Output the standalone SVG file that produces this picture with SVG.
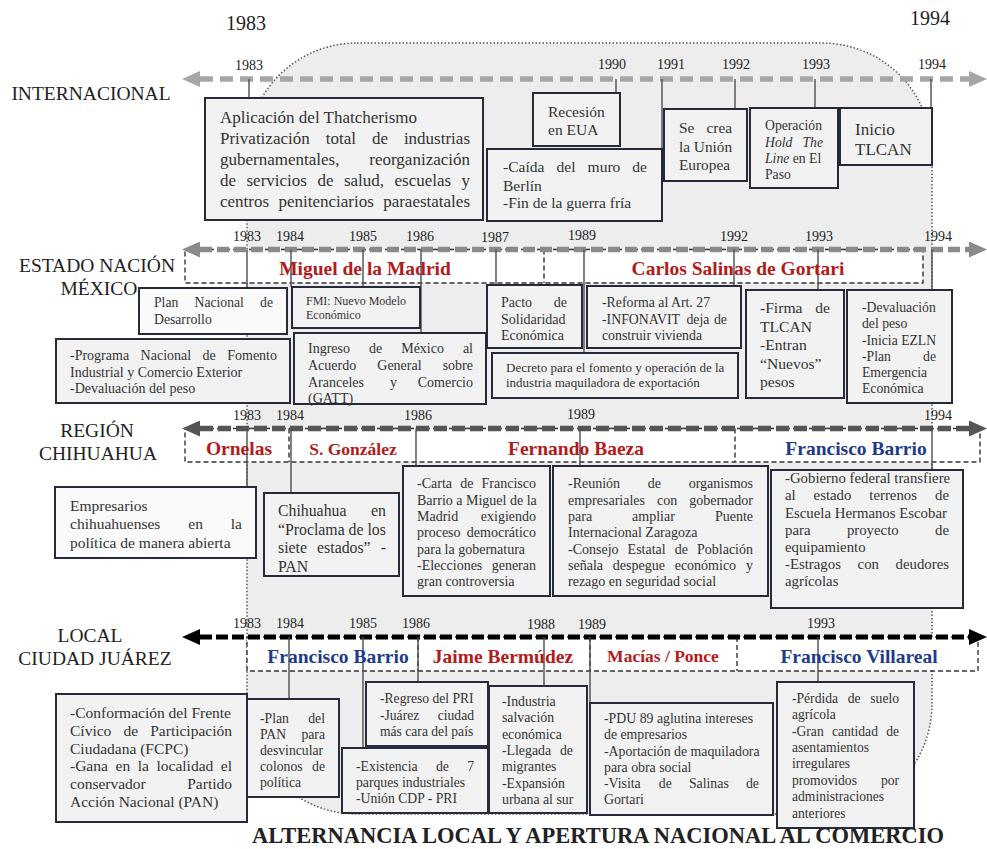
<svg xmlns="http://www.w3.org/2000/svg" width="987" height="849" viewBox="0 0 987 849">
<style>
text{font-family:"Liberation Serif","Times New Roman",serif;fill:#333}
.e{text-anchor:end}
.m{text-anchor:middle}
.i{font-style:italic}
.box{fill:#f2f2f2;stroke:#262a3a;stroke-width:2}
.wbox{fill:#fafafa;stroke:#262a3a;stroke-width:2}
.tick{stroke:#4d4d4d;stroke-width:1.4;fill:none}
.strip{fill:#fff;stroke:#333;stroke-width:1.4;stroke-dasharray:5 3}
.div{stroke:#333;stroke-width:1.4;stroke-dasharray:5 3;fill:none}
.yr{font-size:14px;text-anchor:middle;fill:#222}
.big{font-size:20px;text-anchor:middle;fill:#222}
.lab{font-size:19.5px;text-anchor:middle;fill:#222}
.pres{font-weight:bold;font-size:19.5px;text-anchor:middle}
.red{fill:#b31a1a}
.blue{fill:#1f3a8a}
.f12{font-size:12px}.f13{font-size:13px}.f136{font-size:13.6px}.f137{font-size:13.7px}.f138{font-size:13.8px}.f14{font-size:14px}.f148{font-size:14.8px}.f153{font-size:15.3px}.f155{font-size:15.5px}.f156{font-size:15.6px}.f158{font-size:15.8px}.f17{font-size:17px}
</style>
<defs>
<marker id="a1" markerUnits="userSpaceOnUse" markerWidth="18" markerHeight="16" refX="0" refY="8" orient="auto-start-reverse"><path d="M0,0 L18,8 L0,16 z" fill="#a6a6a6"/></marker>
<marker id="a2" markerUnits="userSpaceOnUse" markerWidth="18" markerHeight="16" refX="0" refY="8" orient="auto-start-reverse"><path d="M0,0 L18,8 L0,16 z" fill="#8a8a8a"/></marker>
<marker id="a3" markerUnits="userSpaceOnUse" markerWidth="18" markerHeight="16" refX="0" refY="8" orient="auto-start-reverse"><path d="M0,0 L18,8 L0,16 z" fill="#555"/></marker>
<marker id="a4" markerUnits="userSpaceOnUse" markerWidth="18" markerHeight="16" refX="0" refY="8" orient="auto-start-reverse"><path d="M0,0 L18,8 L0,16 z" fill="#000"/></marker>
</defs>
<rect width="987" height="849" fill="#fff"/>
<rect id="background" x="247" y="43" width="685" height="771" rx="110" fill="#ededed" stroke="#555" stroke-width="1.5" stroke-dasharray="1.5 2"/>

<g id="strips">
<rect class="strip" x="185" y="249.5" width="738" height="33.5"/>
<line class="div" x1="544" y1="249.5" x2="544" y2="283"/>
<rect class="strip" x="185" y="428.5" width="795" height="33.5"/>
<line class="div" x1="289" y1="428.5" x2="289" y2="462"/>
<line class="div" x1="735" y1="428.5" x2="735" y2="462"/>
<rect class="strip" x="247" y="637" width="731" height="34"/>
<line class="div" x1="418" y1="637" x2="418" y2="671"/>
<line class="div" x1="590" y1="637" x2="590" y2="671"/>
<line class="div" x1="737" y1="637" x2="737" y2="671"/>
</g>

<g id="connectors">
<line x1="200" y1="79" x2="969" y2="79" stroke="#a6a6a6" stroke-width="5.5" stroke-dasharray="13 7" marker-start="url(#a1)" marker-end="url(#a1)"/>
<line x1="200" y1="249.5" x2="969" y2="249.5" stroke="#8a8a8a" stroke-width="5.5" stroke-dasharray="12 5" marker-start="url(#a2)" marker-end="url(#a2)"/>
<line x1="200" y1="428.5" x2="969" y2="428.5" stroke="#555" stroke-width="5.5" stroke-dasharray="13 5" marker-start="url(#a3)" marker-end="url(#a3)"/>
<line x1="200" y1="637" x2="969" y2="637" stroke="#000" stroke-width="5" stroke-dasharray="12 4" marker-start="url(#a4)" marker-end="url(#a4)"/>
<path class="tick" d="M249 79V98M616 79V93M662 79V149M735 79V109M815 79V108M931 79V108"/>
<path class="tick" d="M247 249.5V288M291 249.5V287M363 249.5V287M421 249.5V333M496 249.5V285M584 249.5V353M734 249.5V286M818 249.5V290M932 249.5V290"/>
<path class="tick" d="M247 428.5V487M291 428.5V493M416 428.5V466M580 428.5V466M932 428.5V470"/>
<path class="tick" d="M289 637V699M363 637V748M418 637V682M544 637V686M590 637V703M818 637V682"/>
</g>

<g id="labels">
<text class="big" x="246" y="30">1983</text>
<text class="big" x="930" y="25">1994</text>
<text class="lab" x="91" y="100">INTERNACIONAL</text>
<text class="lab" x="97" y="272">ESTADO NACIÓN</text>
<text class="lab" x="99" y="295">MÉXICO</text>
<text class="lab" x="97" y="437">REGIÓN</text>
<text class="lab" x="98" y="460">CHIHUAHUA</text>
<text class="lab" x="90" y="642">LOCAL</text>
<text class="lab" x="95" y="665">CIUDAD JUÁREZ</text>
<text x="598" y="843" style="font-size:22.5px;font-weight:bold;text-anchor:middle;fill:#222">ALTERNANCIA LOCAL Y APERTURA NACIONAL AL COMERCIO</text>
</g>

<g id="years">
<text class="yr" x="249" y="70">1983</text>
<text class="yr" x="612" y="69">1990</text>
<text class="yr" x="671" y="69">1991</text>
<text class="yr" x="736" y="69">1992</text>
<text class="yr" x="816" y="69">1993</text>
<text class="yr" x="932" y="69">1994</text>
<text class="yr" x="247" y="241">1983</text>
<text class="yr" x="290" y="241">1984</text>
<text class="yr" x="363" y="241">1985</text>
<text class="yr" x="420" y="241">1986</text>
<text class="yr" x="495" y="242">1987</text>
<text class="yr" x="582" y="240">1989</text>
<text class="yr" x="734" y="241">1992</text>
<text class="yr" x="819" y="241">1993</text>
<text class="yr" x="938" y="241">1994</text>
<text class="yr" x="247" y="420">1983</text>
<text class="yr" x="290" y="420">1984</text>
<text class="yr" x="418" y="420">1986</text>
<text class="yr" x="581" y="419">1989</text>
<text class="yr" x="938" y="420">1994</text>
<text class="yr" x="247" y="628">1983</text>
<text class="yr" x="290" y="628">1984</text>
<text class="yr" x="363" y="628">1985</text>
<text class="yr" x="416" y="628">1986</text>
<text class="yr" x="541" y="629">1988</text>
<text class="yr" x="592" y="629">1989</text>
<text class="yr" x="821" y="628">1993</text>
</g>

<g id="presidents">
<text class="pres red" x="365" y="275">Miguel de la Madrid</text>
<text class="pres red" x="738" y="275">Carlos Salinas de Gortari</text>
<text class="pres red" x="239" y="455">Ornelas</text>
<text class="pres red" x="353" y="455" style="font-size:17.5px">S. González</text>
<text class="pres red" x="576" y="455">Fernando Baeza</text>
<text class="pres blue" x="856" y="455">Francisco Barrio</text>
<text class="pres blue" x="338" y="663">Francisco Barrio</text>
<text class="pres red" x="503" y="663">Jaime Bermúdez</text>
<text class="pres red" x="663" y="662" style="font-size:17.5px">Macías / Ponce</text>
<text class="pres blue" x="859" y="663">Francisco Villareal</text>
</g>

<g id="thatcher">
<rect class="box" x="205" y="98" width="278" height="122"/>
<text class="f17"><tspan x="220" y="123">Aplicación del Thatcherismo</tspan><tspan x="220" y="144">Privatización</tspan><tspan x="325.7" y="144">total</tspan><tspan x="371.9" y="144">de</tspan><tspan class="e" x="470" y="144">industrias</tspan><tspan x="220" y="165">gubernamentales,</tspan><tspan class="e" x="470" y="165">reorganización</tspan><tspan x="220" y="186">de</tspan><tspan x="246.5" y="186">servicios</tspan><tspan x="317.4" y="186">de</tspan><tspan x="343.9" y="186">salud,</tspan><tspan x="394.5" y="186">escuelas</tspan><tspan class="e" x="470" y="186">y</tspan><tspan x="220" y="207">centros</tspan><tspan x="278.4" y="207">penitenciarios</tspan><tspan class="e" x="470" y="207">paraestatales</tspan></text>
</g>
<g id="recesion">
<rect class="box" x="533" y="93" width="87" height="53"/>
<text class="f155"><tspan x="548" y="117">Recesión</tspan><tspan x="548" y="135">en EUA</tspan></text>
</g>
<g id="caida">
<rect class="box" x="487" y="149" width="175" height="72"/>
<text class="f155"><tspan x="503" y="172">-Caída</tspan><tspan x="556.5" y="172">del</tspan><tspan x="587.6" y="172">muro</tspan><tspan class="e" x="647" y="172">de</tspan><tspan x="503" y="191">Berlín</tspan><tspan x="503" y="208">-Fin de la guerra fría</tspan></text>
</g>
<g id="unioneuropea">
<rect class="box" x="664" y="109" width="83" height="72"/>
<text class="f153"><tspan x="679" y="133">Se</tspan><tspan class="e" x="732" y="133">crea</tspan><tspan x="679" y="151.5">la Unión</tspan><tspan x="679" y="170">Europea</tspan></text>
</g>
<g id="holdtheline">
<rect class="box" x="750" y="108" width="88" height="80"/>
<text class="f137"><tspan x="765" y="130">Operación</tspan><tspan class="i" x="765" y="147">Hold</tspan><tspan class="i e" x="823" y="147">The</tspan><tspan class="i" x="765" y="163">Line</tspan><tspan> en El</tspan><tspan x="765" y="179">Paso</tspan></text>
</g>
<g id="iniciotlcan">
<rect class="box" x="840" y="108" width="92" height="57"/>
<text class="f17"><tspan x="855" y="135">Inicio</tspan><tspan x="855" y="155">TLCAN</tspan></text>
</g>

<g id="plannacional">
<rect class="wbox" x="139" y="288" width="148" height="46"/>
<text class="f137"><tspan x="154" y="307">Plan</tspan><tspan x="194.5" y="307">Nacional</tspan><tspan class="e" x="273" y="307">de</tspan><tspan x="154" y="324">Desarrollo</tspan></text>
</g>
<g id="fmi">
<rect class="box" x="292" y="287" width="128" height="41"/>
<text class="f12"><tspan x="306" y="305">FMI: Nuevo Modelo</tspan><tspan x="306" y="319">Económico</tspan></text>
</g>
<g id="programa">
<rect class="box" x="56" y="339" width="234" height="64"/>
<text class="f14"><tspan x="70" y="360">-Programa</tspan><tspan x="140.6" y="360">Nacional</tspan><tspan x="202.6" y="360">de</tspan><tspan class="e" x="277" y="360">Fomento</tspan><tspan x="70" y="377">Industrial y Comercio Exterior</tspan><tspan x="70" y="393">-Devaluación del peso</tspan></text>
</g>
<g id="gatt">
<rect class="box" x="294" y="333" width="192" height="71"/>
<text class="f14"><tspan x="308" y="353">Ingreso</tspan><tspan x="369" y="353">de</tspan><tspan x="401.2" y="353">México</tspan><tspan class="e" x="473" y="353">al</tspan><tspan x="308" y="370">Acuerdo</tspan><tspan x="377.3" y="370">General</tspan><tspan class="e" x="473" y="370">sobre</tspan><tspan x="308" y="387">Aranceles</tspan><tspan x="390" y="387">y</tspan><tspan class="e" x="473" y="387">Comercio</tspan><tspan x="308" y="403">(GATT)</tspan></text>
</g>
<g id="pacto">
<rect class="box" x="487" y="285" width="95" height="63"/>
<text class="f14"><tspan x="501" y="307">Pacto</tspan><tspan class="e" x="567" y="307">de</tspan><tspan x="501" y="324">Solidaridad</tspan><tspan x="501" y="340">Económica</tspan></text>
</g>
<g id="reforma">
<rect class="box" x="587" y="286" width="154" height="62"/>
<text class="f138"><tspan x="602" y="307">-Reforma al Art. 27</tspan><tspan x="602" y="324">-INFONAVIT</tspan><tspan x="686.4" y="324">deja</tspan><tspan class="e" x="727" y="324">de</tspan><tspan x="602" y="340">construir vivienda</tspan></text>
</g>
<g id="decreto">
<rect class="box" x="492" y="353" width="246" height="45"/>
<text class="f13"><tspan x="506" y="372">Decreto para el fomento y operación de la</tspan><tspan x="506" y="387">industria maquiladora de exportación</tspan></text>
</g>
<g id="firmatlcan">
<rect class="box" x="746" y="290" width="98" height="108"/>
<text class="f156"><tspan x="760" y="313">-Firma</tspan><tspan class="e" x="830" y="313">de</tspan><tspan x="760" y="331.5">TLCAN</tspan><tspan x="760" y="350">-Entran</tspan><tspan x="760" y="368.5">“Nuevos”</tspan><tspan x="760" y="387">pesos</tspan></text>
</g>
<g id="devaluacion">
<rect class="box" x="847" y="290" width="105" height="113"/>
<text class="f137"><tspan x="862" y="312">-Devaluación</tspan><tspan x="862" y="328">del peso</tspan><tspan x="862" y="344.5">-Inicia EZLN</tspan><tspan x="862" y="360.5">-Plan</tspan><tspan class="e" x="936" y="360.5">de</tspan><tspan x="862" y="377">Emergencia</tspan><tspan x="862" y="393">Económica</tspan></text>
</g>

<g id="empresarios">
<rect class="wbox" x="55" y="487" width="201" height="71"/>
<text class="f155"><tspan x="70" y="511">Empresarios</tspan><tspan x="70" y="529">chihuahuenses</tspan><tspan x="188.3" y="529">en</tspan><tspan class="e" x="242" y="529">la</tspan><tspan x="70" y="548">política de manera abierta</tspan></text>
</g>
<g id="proclama">
<rect class="box" x="264" y="493" width="135" height="83"/>
<text class="f158"><tspan x="278" y="516">Chihuahua</tspan><tspan class="e" x="386" y="516">en</tspan><tspan x="278" y="535">“Proclama de los</tspan><tspan x="278" y="553">siete</tspan><tspan x="317.1" y="553">estados”</tspan><tspan class="e" x="386" y="553">-</tspan><tspan x="278" y="572">PAN</tspan></text>
</g>
<g id="carta">
<rect class="box" x="403" y="466" width="147" height="130"/>
<text class="f14"><tspan x="417" y="488">-Carta</tspan><tspan x="460.2" y="488">de</tspan><tspan class="e" x="536" y="488">Francisco</tspan><tspan x="417" y="504.5">Barrio a Miguel de la</tspan><tspan x="417" y="521">Madrid</tspan><tspan class="e" x="536" y="521">exigiendo</tspan><tspan x="417" y="537">proceso</tspan><tspan class="e" x="536" y="537">democrático</tspan><tspan x="417" y="553.5">para la gobernatura</tspan><tspan x="417" y="570">-Elecciones</tspan><tspan class="e" x="536" y="570">generan</tspan><tspan x="417" y="586">gran controversia</tspan></text>
</g>
<g id="reunion">
<rect class="box" x="553" y="466" width="215" height="130"/>
<text class="f14"><tspan x="568" y="488">-Reunión</tspan><tspan x="647.7" y="488">de</tspan><tspan class="e" x="753" y="488">organismos</tspan><tspan x="568" y="504.5">empresariales</tspan><tspan x="657" y="504.5">con</tspan><tspan class="e" x="753" y="504.5">gobernador</tspan><tspan x="568" y="521">para</tspan><tspan x="632.1" y="521">ampliar</tspan><tspan class="e" x="753" y="521">Puente</tspan><tspan x="568" y="537">Internacional Zaragoza</tspan><tspan x="568" y="553.5">-Consejo</tspan><tspan x="627.6" y="553.5">Estatal</tspan><tspan x="674.7" y="553.5">de</tspan><tspan class="e" x="753" y="553.5">Población</tspan><tspan x="568" y="570">señala</tspan><tspan x="612.8" y="570">despegue</tspan><tspan x="674.7" y="570">económico</tspan><tspan class="e" x="753" y="570">y</tspan><tspan x="568" y="586">rezago en seguridad social</tspan></text>
</g>
<g id="gobierno">
<rect class="box" x="771" y="470" width="192" height="138"/>
<text class="f148"><tspan x="785" y="483">-Gobierno federal transfiere</tspan><tspan x="785" y="500">al</tspan><tspan x="813.6" y="500">estado</tspan><tspan x="869.3" y="500">terrenos</tspan><tspan class="e" x="949" y="500">de</tspan><tspan x="785" y="517.5">Escuela Hermanos Escobar</tspan><tspan x="785" y="534.5">para</tspan><tspan x="846.9" y="534.5">proyecto</tspan><tspan class="e" x="949" y="534.5">de</tspan><tspan x="785" y="551.5">equipamiento</tspan><tspan x="785" y="568.5">-Estragos</tspan><tspan x="857.6" y="568.5">con</tspan><tspan class="e" x="949" y="568.5">deudores</tspan><tspan x="785" y="586">agrícolas</tspan></text>
</g>

<g id="frentecivico">
<rect class="box" x="56" y="694" width="191" height="128"/>
<text class="f155"><tspan x="70" y="718">-Conformación del Frente</tspan><tspan x="70" y="736">Cívico</tspan><tspan x="123.5" y="736">de</tspan><tspan class="e" x="232" y="736">Participación</tspan><tspan x="70" y="753.5">Ciudadana (FCPC)</tspan><tspan x="70" y="771">-Gana</tspan><tspan x="115.5" y="771">en</tspan><tspan x="137.7" y="771">la</tspan><tspan x="156.5" y="771">localidad</tspan><tspan class="e" x="232" y="771">el</tspan><tspan x="70" y="789">conservador</tspan><tspan class="e" x="232" y="789">Partido</tspan><tspan x="70" y="807">Acción Nacional (PAN)</tspan></text>
</g>
<g id="planpan">
<rect class="box" x="247" y="699" width="92" height="98"/>
<text class="f137"><tspan x="260" y="723">-Plan</tspan><tspan class="e" x="325" y="723">del</tspan><tspan x="260" y="739">PAN</tspan><tspan class="e" x="325" y="739">para</tspan><tspan x="260" y="755">desvincular</tspan><tspan x="260" y="771">colonos</tspan><tspan class="e" x="325" y="771">de</tspan><tspan x="260" y="787">política</tspan></text>
</g>
<g id="regresopri">
<rect class="box" x="366" y="682" width="122" height="64"/>
<text class="f136"><tspan x="380" y="703">-Regreso del PRI</tspan><tspan x="380" y="720">-Juárez</tspan><tspan class="e" x="474" y="720">ciudad</tspan><tspan x="380" y="736">más cara del país</tspan></text>
</g>
<g id="parques">
<rect class="box" x="342" y="748" width="146" height="65"/>
<text class="f137"><tspan x="356" y="771">-Existencia</tspan><tspan x="435.9" y="771">de</tspan><tspan class="e" x="474" y="771">7</tspan><tspan x="356" y="787">parques industriales</tspan><tspan x="356" y="803">-Unión CDP - PRI</tspan></text>
</g>
<g id="industria">
<rect class="box" x="489" y="686" width="98" height="127"/>
<text class="f138"><tspan x="502" y="706">-Industria</tspan><tspan x="502" y="722">salvación</tspan><tspan x="502" y="738.5">económica</tspan><tspan x="502" y="755">-Llegada</tspan><tspan class="e" x="573" y="755">de</tspan><tspan x="502" y="771">migrantes</tspan><tspan x="502" y="788">-Expansión</tspan><tspan x="502" y="804">urbana al sur</tspan></text>
</g>
<g id="pdu89">
<rect class="box" x="590" y="703" width="183" height="112"/>
<text class="f138"><tspan x="604" y="723">-PDU 89 aglutina intereses</tspan><tspan x="604" y="739">de empresarios</tspan><tspan x="604" y="755.5">-Aportación de maquiladora</tspan><tspan x="604" y="771.5">para obra social</tspan><tspan x="604" y="788">-Visita</tspan><tspan x="658.8" y="788">de</tspan><tspan x="688.9" y="788">Salinas</tspan><tspan class="e" x="759" y="788">de</tspan><tspan x="604" y="804">Gortari</tspan></text>
</g>
<g id="perdida">
<rect class="box" x="777" y="682" width="137" height="146"/>
<text class="f136"><tspan x="792" y="703">-Pérdida</tspan><tspan x="847.8" y="703">de</tspan><tspan class="e" x="899" y="703">suelo</tspan><tspan x="792" y="719">agrícola</tspan><tspan x="792" y="736">-Gran</tspan><tspan x="831.9" y="736">cantidad</tspan><tspan class="e" x="899" y="736">de</tspan><tspan x="792" y="752">asentamientos</tspan><tspan x="792" y="768">irregulares</tspan><tspan x="792" y="785">promovidos</tspan><tspan class="e" x="899" y="785">por</tspan><tspan x="792" y="801">administraciones</tspan><tspan x="792" y="818">anteriores</tspan></text>
</g>
</svg>
